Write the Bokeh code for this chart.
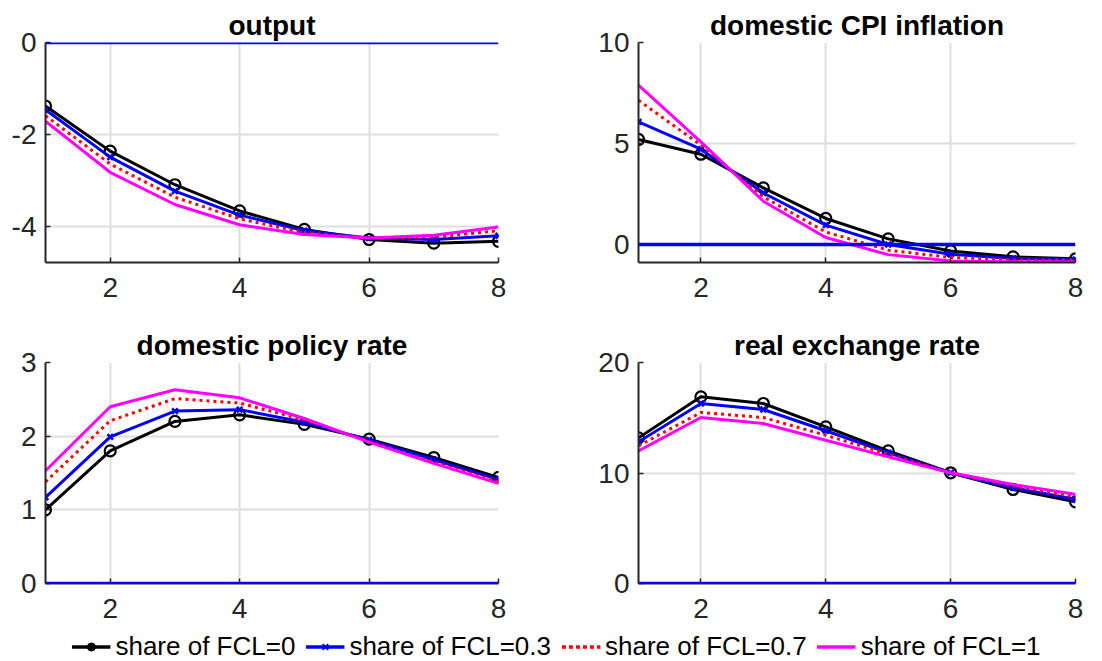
from bokeh.plotting import figure
from bokeh.layouts import column, row
from bokeh.models import Range1d, FixedTicker, Span, Legend, LegendItem
from bokeh.embed import file_html
from bokeh.resources import INLINE

periods = [1, 2, 3, 4, 5, 6, 7, 8]
series_labels = ["share of FCL=0", "share of FCL=0.3", "share of FCL=0.7", "share of FCL=1"]

output_fcl0 = [-1.38, -2.36, -3.09, -3.66, -4.06, -4.28, -4.36, -4.32]
output_fcl03 = [-1.46, -2.49, -3.23, -3.75, -4.09, -4.25, -4.28, -4.20]
output_fcl07 = [-1.59, -2.64, -3.36, -3.83, -4.13, -4.25, -4.23, -4.09]
output_fcl1 = [-1.71, -2.82, -3.52, -3.96, -4.17, -4.25, -4.19, -4.01]

cpi_fcl0 = [5.20, 4.47, 2.80, 1.29, 0.28, -0.32, -0.61, -0.71]
cpi_fcl03 = [6.07, 4.72, 2.55, 0.96, 0.00, -0.48, -0.69, -0.74]
cpi_fcl07 = [7.14, 4.92, 2.36, 0.62, -0.28, -0.64, -0.76, -0.77]
cpi_fcl1 = [7.89, 5.08, 2.14, 0.35, -0.50, -0.81, -0.85, -0.85]

rate_fcl0 = [1.00, 1.80, 2.20, 2.29, 2.16, 1.96, 1.71, 1.44]
rate_fcl03 = [1.17, 1.99, 2.34, 2.36, 2.19, 1.95, 1.68, 1.41]
rate_fcl07 = [1.38, 2.21, 2.51, 2.45, 2.22, 1.93, 1.65, 1.38]
rate_fcl1 = [1.53, 2.40, 2.63, 2.52, 2.24, 1.92, 1.63, 1.36]

rer_fcl0 = [13.18, 16.89, 16.29, 14.18, 12.00, 10.02, 8.51, 7.39]
rer_fcl03 = [12.82, 16.29, 15.75, 13.82, 11.83, 10.02, 8.66, 7.63]
rer_fcl07 = [12.46, 15.48, 15.02, 13.42, 11.70, 10.02, 8.81, 7.84]
rer_fcl1 = [12.00, 15.02, 14.48, 12.97, 11.46, 10.02, 8.96, 8.08]

x_ticks = [2, 4, 6, 8]

panels = [
    dict(title="output", data=[output_fcl0, output_fcl03, output_fcl07, output_fcl1],
         yr=(-4.78, 0), yt=[-4, -2, 0]),
    dict(title="domestic CPI inflation", data=[cpi_fcl0, cpi_fcl03, cpi_fcl07, cpi_fcl1],
         yr=(-0.89, 10), yt=[0, 5, 10]),
    dict(title="domestic policy rate", data=[rate_fcl0, rate_fcl03, rate_fcl07, rate_fcl1],
         yr=(0, 3), yt=[0, 1, 2, 3]),
    dict(title="real exchange rate", data=[rer_fcl0, rer_fcl03, rer_fcl07, rer_fcl1],
         yr=(0, 20), yt=[0, 10, 20]),
]

FONT = "Liberation Sans"
AX = "#262626"

# geometry (width, height, left, right, top, bottom borders)
geoms = [
    (560, 315, 45, 62, 42, 53),
    (542, 315, 78, 27, 42, 53),
    (560, 316, 45, 62, 47, 48),
    (542, 316, 78, 27, 47, 48),
]


def make_panel(cfg, geom):
    w, h, l, r, t, b = geom
    p = figure(width=w, height=h, output_backend="svg", toolbar_location=None,
               x_range=Range1d(1, 8), y_range=Range1d(*cfg["yr"]),
               min_border_left=l, min_border_right=r, min_border_top=t, min_border_bottom=b)
    p.outline_line_color = None
    p.background_fill_color = "white"
    p.title.text = cfg["title"]
    p.title.align = "center"
    p.title.text_font = FONT
    p.title.text_font_style = "bold"
    p.title.text_font_size = "28px"
    p.title.text_color = "black"
    p.title.standoff = 4
    p.xaxis.ticker = FixedTicker(ticks=x_ticks)
    p.yaxis.ticker = FixedTicker(ticks=cfg["yt"])
    p.yaxis.major_label_overrides = {t: str(t) for t in cfg["yt"]}
    for ax in (p.xaxis[0], p.yaxis[0]):
        ax.axis_line_color = AX
        ax.axis_line_width = 2
        ax.major_tick_line_color = AX
        ax.major_tick_line_width = 1.5
        ax.major_tick_in = 5
        ax.major_tick_out = 0
        ax.minor_tick_line_color = None
        ax.major_label_text_font = FONT
        ax.major_label_text_font_size = "28px"
        ax.major_label_text_color = AX
    p.yaxis.major_label_standoff = 9
    p.xaxis.major_label_standoff = 15
    for g in (p.xgrid[0], p.ygrid[0]):
        g.grid_line_color = "#dedede"
        g.grid_line_width = 2
    d = cfg["data"]
    p.line(periods, d[0], line_color="black", line_width=3)
    p.scatter(periods, d[0], marker="circle", size=11, fill_color=None,
              line_color="black", line_width=2.2)
    p.line(periods, d[1], line_color="#0000ff", line_width=3)
    p.scatter(periods, d[1], marker="x", size=8, line_color="#0000ff", line_width=2.5)
    p.line(periods, d[2], line_color="#ff0000", line_width=3, line_dash="3 4")
    p.line(periods, d[3], line_color="#ff00ff", line_width=3)
    p.add_layout(Span(location=0, dimension="width", line_color="#0000ff", line_width=3.5))
    return p


figs = [make_panel(c, g) for c, g in zip(panels, geoms)]

# legend strip: hidden renderers (outside the visible range) only provide legend glyphs
leg = figure(width=1102, height=30, output_backend="svg", toolbar_location=None,
             x_range=Range1d(0, 1), y_range=Range1d(0, 1), min_border=0,
             min_border_left=10)
leg.outline_line_color = None
leg.xaxis.visible = False
leg.yaxis.visible = False
leg.xgrid.visible = False
leg.ygrid.visible = False
hx = [-5, -4]
hy = [-5, -5]
r0 = leg.line(hx, hy, line_color="black", line_width=3.5)
m0 = leg.scatter(hx, hy, marker="circle", size=8, fill_color="black", line_color="black")
r1 = leg.line(hx, hy, line_color="#0000ff", line_width=3.5)
m1 = leg.scatter(hx, hy, marker="x", size=6, line_color="#0000ff", line_width=2)
r2 = leg.line(hx, hy, line_color="#ff0000", line_width=3.5, line_dash="4 3")
r3 = leg.line(hx, hy, line_color="#ff00ff", line_width=3.5)
legend = Legend(items=[LegendItem(label=series_labels[0], renderers=[r0, m0]),
                       LegendItem(label=series_labels[1], renderers=[r1, m1]),
                       LegendItem(label=series_labels[2], renderers=[r2]),
                       LegendItem(label=series_labels[3], renderers=[r3])],
                orientation="horizontal", location="center",
                glyph_width=39, glyph_height=20, label_standoff=5, spacing=10,
                padding=0, margin=0, border_line_color=None,
                background_fill_alpha=0,
                label_text_font=FONT, label_text_font_size="26px",
                label_text_color="black")
leg.add_layout(legend, "center")

layout = column(row(figs[0], figs[1], spacing=0), row(figs[2], figs[3], spacing=0), leg, spacing=0)

open("out.html", "w").write(file_html(layout, INLINE))
